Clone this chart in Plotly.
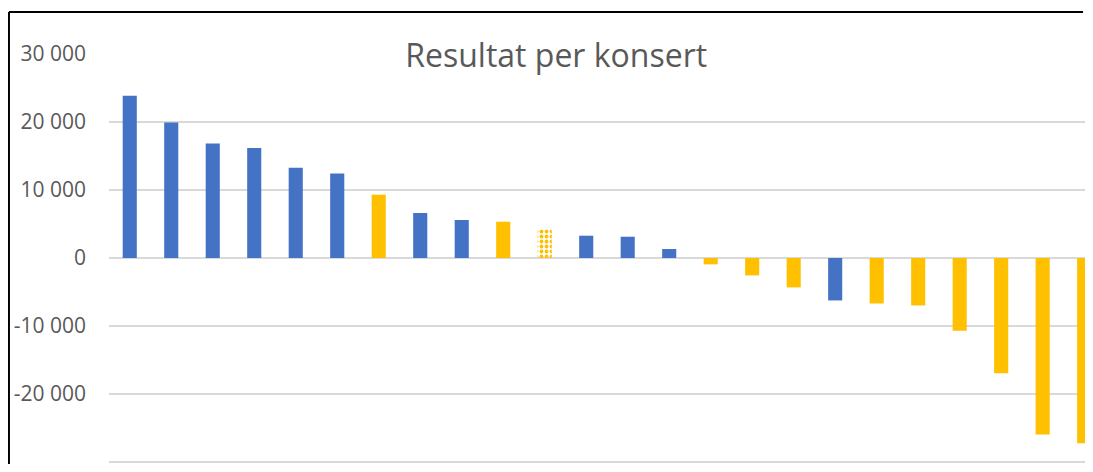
import plotly.graph_objects as go

# Resultat per konsert (kr), sortert synkende
konserter = [f"Konsert {i}" for i in range(1, 25)]
resultat = [23850, 19940, 16850, 16170, 13280, 12440, 9310, 6620, 5590, 5340,
            4160, 3280, 3130, 1320, -940, -2560, -4320, -6240, -6690, -6980,
            -10690, -16940, -25940, -27260]
# kategori per konsert: "a" = blå, "b" = gul, "p" = gul med mønster
kategori = ["a", "a", "a", "a", "a", "a", "b", "a", "a", "b",
            "p", "a", "a", "a", "b", "b", "b", "a", "b", "b",
            "b", "b", "b", "b"]

y_ticks = [-30000, -20000, -10000, 0, 10000, 20000, 30000]
y_ticktext = ["-30 000", "-20 000", "-10 000", "0", "10 000", "20 000", "30 000"]

BLUE = "#4472C4"
YELLOW = "#FFC000"
GREY = "#595959"

colors = [BLUE if k == "a" else YELLOW for k in kategori]
shapes = ["." if k == "p" else "" for k in kategori]

fig = go.Figure()
fig.add_trace(go.Bar(
    x=konserter, y=resultat,
    marker=dict(color=colors, line=dict(width=0),
                pattern=dict(shape=shapes, fgcolor="white", bgcolor=YELLOW,
                             size=5, solidity=0.45, fillmode="replace")),
    showlegend=False,
))

# ramme rundt diagramområdet: bare venstre og øvre kant er synlig
fig.add_shape(type="line", xref="paper", yref="paper",
              x0=-0.1025, x1=-0.1025, y0=-0.1, y1=1.1024,
              line=dict(color="black", width=2), layer="above")
fig.add_shape(type="line", xref="paper", yref="paper",
              x0=-0.1025, x1=0.998, y0=1.1024, y1=1.1024,
              line=dict(color="black", width=2), layer="above")

# siden har 8px body-marg, så figuren gjøres 16px mindre
fig.update_layout(
    width=1077, height=456,
    margin=dict(l=101, r=0, t=46, b=0),
    paper_bgcolor="white", plot_bgcolor="white",
    bargap=0.66,
    font=dict(family="Open Sans", color=GREY),
    title=dict(text="Resultat per konsert", x=0.509, xanchor="center",
               y=0.896, yanchor="middle",
               font=dict(family="Open Sans", size=32, color=GREY)),
    xaxis=dict(showticklabels=False, showgrid=False, zeroline=False,
               showline=False, range=[-0.5, 23.02]),
    yaxis=dict(range=[-30294, 30000], tickvals=y_ticks, ticktext=y_ticktext,
               showgrid=True, gridcolor="#d9d9d9", gridwidth=2,
               zeroline=False, showline=False,
               tickfont=dict(family="Open Sans", size=21, color=GREY),
               ticklabelstandoff=22),
)

fig.write_html("out.html")
